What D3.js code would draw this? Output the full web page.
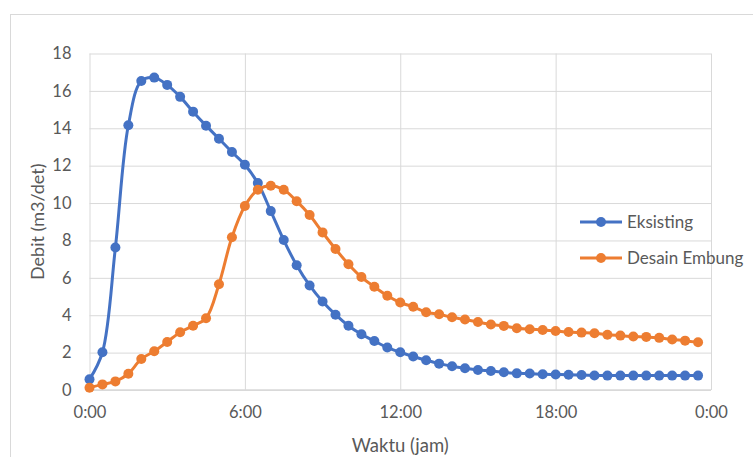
<!DOCTYPE html>
<html>
<head>
<meta charset="utf-8">
<script src="https://cdn.jsdelivr.net/npm/d3@7"></script>
<style>
  html, body { margin: 0; padding: 0; background: #fff; }
  svg { display: block; font-family: Lato, "Open Sans", sans-serif; }
</style>
</head>
<body>
<svg width="753" height="457"></svg>
<script>
const times = ["0:00","0:30","1:00","1:30","2:00","2:30","3:00","3:30","4:00","4:30",
  "5:00","5:30","6:00","6:30","7:00","7:30","8:00","8:30","9:00","9:30",
  "10:00","10:30","11:00","11:30","12:00","12:30","13:00","13:30","14:00","14:30",
  "15:00","15:30","16:00","16:30","17:00","17:30","18:00","18:30","19:00","19:30",
  "20:00","20:30","21:00","21:30","22:00","22:30","23:00","23:30"];

const eksisting = [0.57, 2.02, 7.62, 14.16, 16.53, 16.71, 16.32, 15.68, 14.89, 14.14,
  13.44, 12.73, 12.05, 11.07, 9.57, 8.02, 6.67, 5.59, 4.73, 4.03,
  3.44, 2.98, 2.62, 2.27, 2.02, 1.79, 1.59, 1.41, 1.27, 1.16,
  1.07, 1.02, 0.95, 0.89, 0.88, 0.84, 0.83, 0.82, 0.80, 0.78,
  0.77, 0.77, 0.77, 0.77, 0.77, 0.77, 0.77, 0.77];

const desain = [0.12, 0.30, 0.46, 0.87, 1.66, 2.07, 2.57, 3.09, 3.44, 3.84,
  5.66, 8.17, 9.84, 10.71, 10.93, 10.71, 10.10, 9.36, 8.43, 7.54,
  6.73, 6.04, 5.52, 5.04, 4.68, 4.45, 4.16, 4.05, 3.89, 3.77,
  3.64, 3.50, 3.43, 3.30, 3.25, 3.21, 3.16, 3.10, 3.07, 3.04,
  2.96, 2.91, 2.86, 2.84, 2.79, 2.70, 2.64, 2.55];

const xTicks = [0, 6, 12, 18, 24];
const xTickLabels = ["0:00", "6:00", "12:00", "18:00", "0:00"];
const yTicks = [0, 2, 4, 6, 8, 10, 12, 14, 16, 18];

const seriesNames = ["Eksisting", "Desain Embung"];
const seriesColors = ["#4472C4", "#ED7D31"];

const W = 753, H = 457;
const m = {top: 53.5, right: 42, bottom: 67, left: 89.5};
const gW = W - m.left - m.right;
const gH = H - m.top - m.bottom;

const svg = d3.select("svg");

// outer chart frame
svg.append("rect")
  .attr("x", 10.5).attr("y", 14.5)
  .attr("width", W + 10).attr("height", H + 10)
  .attr("fill", "none")
  .attr("stroke", "#d9d9d9");

const g = svg.append("g").attr("transform", `translate(${m.left},${m.top})`);

const hour = t => { const [h, mm] = t.split(":"); return +h + (+mm) / 60; };

const x = d3.scaleLinear().domain([0, 24]).range([0, gW]);
const y = d3.scaleLinear().domain([0, 18]).range([gH, 0]);

// horizontal gridlines
g.append("g")
  .call(d3.axisLeft(y).tickValues(yTicks).tickSize(-gW).tickFormat(""))
  .call(a => a.select(".domain").remove())
  .selectAll("line").attr("stroke", "#d9d9d9");

// vertical gridlines
g.append("g")
  .attr("transform", `translate(0,${gH})`)
  .call(d3.axisBottom(x).tickValues(xTicks).tickSize(-gH).tickFormat(""))
  .call(a => a.select(".domain").remove())
  .selectAll("line").attr("stroke", "#d9d9d9");

// bottom axis line
g.append("line")
  .attr("x1", 0).attr("x2", gW)
  .attr("y1", gH).attr("y2", gH)
  .attr("stroke", "#d9d9d9").attr("stroke-width", 1.3);

// tick labels
const yAx = g.append("g")
  .call(d3.axisLeft(y).tickValues(yTicks).tickSize(0).tickPadding(18));
yAx.select(".domain").remove();
yAx.selectAll("text").attr("fill", "#595959").style("font-size", "16.5px")
  .style("font-family", "Lato, sans-serif");

const xAx = g.append("g")
  .attr("transform", `translate(0,${gH})`)
  .call(d3.axisBottom(x).tickValues(xTicks).tickSize(0).tickPadding(16)
    .tickFormat((d, i) => xTickLabels[i]));
xAx.select(".domain").remove();
xAx.selectAll("text").attr("fill", "#595959").style("font-size", "16.5px")
  .style("font-family", "Lato, sans-serif");

// series
const series = [eksisting, desain].map((vals, i) => ({
  name: seriesNames[i],
  color: seriesColors[i],
  pts: vals.map((v, j) => ({t: hour(times[j]), v: v}))
}));

const line = d3.line()
  .x(d => x(d.t))
  .y(d => y(d.v))
  .curve(d3.curveCatmullRom.alpha(0.5));

series.forEach(s => {
  g.append("path")
    .datum(s.pts)
    .attr("d", line)
    .attr("fill", "none")
    .attr("stroke", s.color)
    .attr("stroke-width", 3)
    .attr("stroke-linejoin", "round");

  g.selectAll(null)
    .data(s.pts)
    .enter()
    .append("circle")
    .attr("cx", d => x(d.t))
    .attr("cy", d => y(d.v))
    .attr("r", 5)
    .attr("fill", s.color);
});

// axis titles
svg.append("text")
  .attr("x", m.left + gW / 2)
  .attr("y", 452)
  .attr("text-anchor", "middle")
  .attr("fill", "#595959")
  .style("font-size", "18.5px")
  .text("Waktu (jam)");

svg.append("text")
  .attr("transform", `translate(44,${m.top + gH / 2}) rotate(-90)`)
  .attr("text-anchor", "middle")
  .attr("fill", "#595959")
  .style("font-size", "18px")
  .text("Debit (m3/det)");

// legend
const leg = svg.append("g").attr("transform", "translate(580,222)");
series.forEach((s, i) => {
  const row = leg.append("g").attr("transform", `translate(0,${i * 36})`);
  row.append("line").attr("x1", 0).attr("x2", 42)
    .attr("stroke", s.color).attr("stroke-width", 3);
  row.append("circle").attr("cx", 21).attr("r", 5).attr("fill", s.color);
  row.append("text").attr("x", 47).attr("dy", "0.35em")
    .attr("fill", "#595959").style("font-size", "17px")
    .text(s.name);
});
</script>
</body>
</html>
